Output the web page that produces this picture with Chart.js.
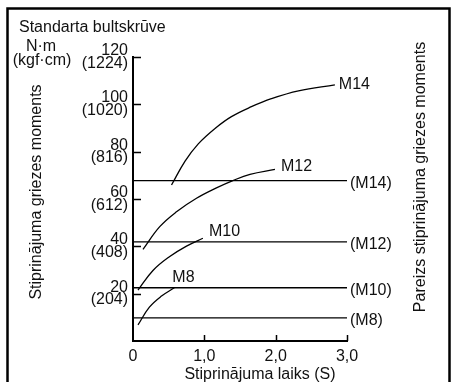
<!DOCTYPE html>
<html>
<head>
<meta charset="utf-8">
<script src="https://cdn.jsdelivr.net/npm/chart.js@4"></script>
<style>
  body { margin: 0; background: #fff; }
  canvas { display: block; }
</style>
</head>
<body>
<canvas id="chart" width="452" height="382"></canvas>
<script>
const FONT = '"Liberation Sans", Arial, sans-serif';

// standard bolt curves: tightening time (s) -> torque (N·m)
const m14Time = [0.54, 0.73, 0.915, 1.15, 1.38, 1.66, 1.94, 2.32, 2.83];
const m14Torque = [65.9, 76.0, 83.3, 89.8, 94.8, 99.0, 102.4, 105.7, 108.2];
const m12Time = [0.14, 0.375, 0.61, 0.89, 1.17, 1.40, 1.64, 1.99];
const m12Torque = [38.7, 48.3, 54.6, 60.3, 64.7, 67.8, 70.4, 72.5];
const m10Time = [0.07, 0.28, 0.51, 0.75, 0.98];
const m10Torque = [21.5, 29.8, 35.6, 40.1, 43.4];
const m8Time = [0.07, 0.23, 0.40, 0.58];
const m8Torque = [6.8, 14.3, 19.0, 22.5];

// correct torque levels (horizontal lines)
const boltNames = ['M14', 'M12', 'M10', 'M8'];
const properTorque = [67.8, 41.9, 22.5, 9.8];
const lineStart = 0;
const lineEnd = 3;

const yTickValues = [20, 40, 60, 80, 100, 120];
const yTickKgf = ['(204)', '(408)', '(612)', '(816)', '(1020)', '(1224)'];
const xTickValues = [0, 1, 2, 3];
const xTickLabels = ['0', '1,0', '2,0', '3,0'];

function pts(xs, ys) {
  return xs.map((x, i) => ({x: x, y: ys[i]}));
}

let curves = [
  {name: 'M14', data: pts(m14Time, m14Torque), off: [4, 0]},
  {name: 'M12', data: pts(m12Time, m12Torque), off: [6, -3]},
  {name: 'M10', data: pts(m10Time, m10Torque), off: [6, -7]},
  {name: 'M8', data: pts(m8Time, m8Torque), off: [-2, -10]}
];

let datasets = [];
curves.forEach(c => {
  datasets.push({
    label: c.name,
    data: c.data,
    borderColor: '#000',
    borderWidth: 1.3,
    pointRadius: 0,
    fill: false,
    tension: 0.4
  });
});
boltNames.forEach((n, i) => {
  datasets.push({
    label: '(' + n + ')',
    data: [{x: lineStart, y: properTorque[i]}, {x: lineEnd, y: properTorque[i]}],
    borderColor: '#000',
    borderWidth: 1.3,
    pointRadius: 0,
    fill: false
  });
});

const decor = {
  id: 'decor',
  afterDraw(chart) {
    const ctx = chart.ctx;
    const xs = chart.scales.x, ys = chart.scales.y;
    const a = chart.chartArea;
    ctx.save();
    ctx.strokeStyle = '#000';
    ctx.fillStyle = '#111';

    // frame
    ctx.lineWidth = 2.5;
    ctx.strokeRect(7.5, 8.5, 442, 400);

    // inward tick marks
    ctx.lineWidth = 1.5;
    ctx.beginPath();
    yTickValues.forEach(v => {
      let y = Math.round(ys.getPixelForValue(v)) + 0.5;
      ctx.moveTo(a.left, y);
      ctx.lineTo(a.left + 8, y);
    });
    xTickValues.forEach(v => {
      if (v === 0) return;
      let x = Math.round(xs.getPixelForValue(v)) + 0.5;
      ctx.moveTo(x, a.bottom);
      ctx.lineTo(x, a.bottom - 6);
    });
    ctx.stroke();

    ctx.font = '16px ' + FONT;
    ctx.textBaseline = 'middle';

    // curve labels
    ctx.textAlign = 'left';
    curves.forEach(c => {
      let last = c.data[c.data.length - 1];
      ctx.fillText(c.name, xs.getPixelForValue(last.x) + c.off[0], ys.getPixelForValue(last.y) + c.off[1]);
    });
    // proper torque labels
    boltNames.forEach((n, i) => {
      ctx.fillText('(' + n + ')', xs.getPixelForValue(lineEnd) + 3, ys.getPixelForValue(properTorque[i]) + 3);
    });

    // titles
    ctx.fillText('Standarta bultskrūve', 19, 28);
    ctx.textAlign = 'center';
    ctx.fillText('N·m', 41, 47);
    ctx.fillText('(kgf·cm)', 42, 61);
    ctx.fillText('Stiprinājuma laiks (S)', 260, 375);

    ctx.save();
    ctx.translate(37, 192);
    ctx.rotate(-Math.PI / 2);
    ctx.fillText('Stiprinājuma griezes moments', 0, 0);
    ctx.restore();

    ctx.save();
    ctx.translate(421, 177);
    ctx.rotate(-Math.PI / 2);
    ctx.fillText('Pareizs stiprinājuma griezes moments', 0, 0);
    ctx.restore();

    ctx.restore();
  }
};

new Chart(document.getElementById('chart'), {
  type: 'line',
  data: {datasets: datasets},
  options: {
    responsive: false,
    animation: false,
    layout: {padding: {left: 0, right: 105, top: 57, bottom: 0}},
    plugins: {legend: {display: false}, tooltip: {enabled: false}},
    scales: {
      x: {
        type: 'linear',
        min: 0,
        max: 3,
        grid: {display: false, drawTicks: false},
        border: {display: true, color: '#000', width: 2},
        afterBuildTicks: s => { s.ticks = xTickValues.map(v => ({value: v})); },
        afterFit: s => { s.height = 41; },
        ticks: {
          color: '#111',
          padding: 6,
          maxRotation: 0,
          font: {family: FONT, size: 16},
          callback: (v) => xTickLabels[xTickValues.indexOf(v)]
        }
      },
      y: {
        min: 0,
        max: 120,
        grid: {display: false, drawTicks: false},
        border: {display: true, color: '#000', width: 2},
        afterBuildTicks: s => { s.ticks = yTickValues.map(v => ({value: v})); },
        afterFit: s => { s.width = 133; },
        ticks: {
          color: '#111',
          padding: 5,
          font: {family: FONT, size: 16, lineHeight: 0.8},
          callback: (v) => [String(v), yTickKgf[yTickValues.indexOf(v)]]
        }
      }
    }
  },
  plugins: [decor]
});
</script>
</body>
</html>
